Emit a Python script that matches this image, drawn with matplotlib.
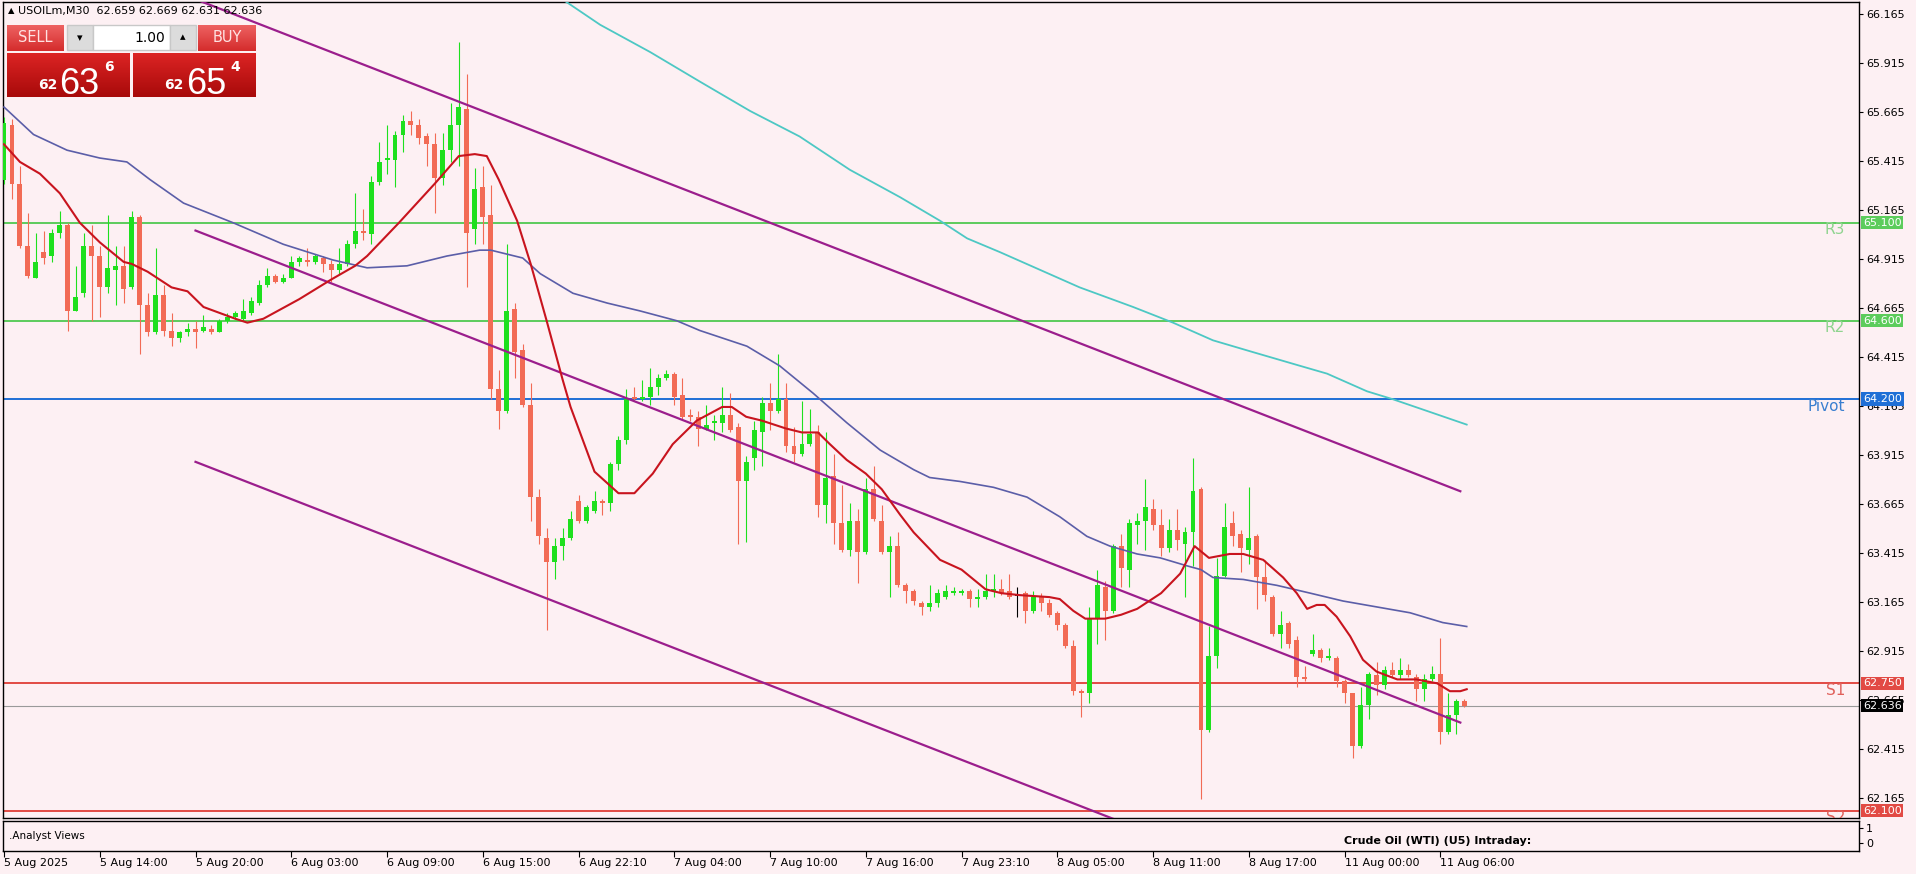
import numpy as np
import matplotlib.pyplot as plt
from matplotlib.patches import Rectangle
from matplotlib.colors import LinearSegmentedColormap

# USOILm M30 candles, 5 Aug 2025 -> 11 Aug 2025
opens = [65.32, 65.60, 65.30, 64.98, 64.82, 64.95, 64.93, 65.05, 65.09, 64.65,
         64.74, 64.98, 64.93, 64.77, 64.86, 64.88, 64.77, 65.13, 64.68, 64.54,
         64.73, 64.55, 64.51, 64.54, 64.56, 64.55, 64.56, 64.54, 64.60, 64.62,
         64.61, 64.64, 64.69, 64.78, 64.83, 64.80, 64.82, 64.90, 64.91, 64.90,
         64.92, 64.89, 64.86, 64.89, 64.99, 65.06, 65.04, 65.31, 65.42, 65.42,
         65.55, 65.62, 65.60, 65.54, 65.50, 65.33, 65.47, 65.60, 65.68, 65.07,
         65.28, 65.14, 64.25, 64.14, 64.66, 64.45, 64.17, 63.70, 63.49, 63.37,
         63.45, 63.49, 63.68, 63.58, 63.63, 63.68, 63.67, 63.87, 63.99, 64.21,
         64.20, 64.21, 64.26, 64.31, 64.33, 64.22, 64.12, 64.11, 64.05, 64.08,
         64.08, 64.12, 64.06, 63.78, 63.90, 64.03, 64.18, 64.14, 64.20, 63.96,
         63.92, 63.97, 64.03, 63.66, 63.81, 63.57, 63.43, 63.58, 63.42, 63.74,
         63.58, 63.42, 63.45, 63.25, 63.22, 63.16, 63.14, 63.16, 63.19, 63.21,
         63.21, 63.22, 63.18, 63.19, 63.22, 63.23, 63.22, 63.195, 63.21, 63.12,
         63.19, 63.16, 63.11, 63.05, 62.94, 62.71, 62.70, 63.08, 63.24, 63.12,
         63.45, 63.33, 63.56, 63.58, 63.64, 63.56, 63.44, 63.53, 63.46, 63.52,
         63.74, 62.51, 62.89, 63.30, 63.57, 63.51, 63.43, 63.50, 63.29, 63.19,
         63.00, 63.06, 62.97, 62.78, 62.90, 62.92, 62.88, 62.88, 62.76, 62.70,
         62.43, 62.64, 62.79, 62.74, 62.82, 62.79, 62.82, 62.78, 62.72, 62.77,
         62.80, 62.50, 62.59, 62.659]
highs = [65.64, 65.63, 65.39, 65.15, 65.05, 65.06, 65.07, 65.16, 65.10, 64.88,
         65.05, 65.09, 64.98, 65.14, 64.98, 64.98, 65.16, 65.14, 64.74, 64.97,
         64.78, 64.64, 64.55, 64.59, 64.60, 64.63, 64.58, 64.61, 64.64, 64.65,
         64.71, 64.72, 64.81, 64.87, 64.84, 64.84, 64.93, 64.93, 64.97, 64.94,
         64.93, 64.91, 64.97, 65.01, 65.25, 65.17, 65.34, 65.51, 65.60, 65.57,
         65.65, 65.67, 65.63, 65.56, 65.56, 65.56, 65.71, 66.02, 65.86, 65.38,
         65.39, 65.29, 64.35, 64.99, 64.69, 64.48, 64.28, 63.74, 63.54, 63.49,
         63.54, 63.63, 63.71, 63.66, 63.73, 63.69, 63.88, 64.01, 64.25, 64.26,
         64.30, 64.36, 64.33, 64.35, 64.34, 64.31, 64.15, 64.14, 64.17, 64.12,
         64.26, 64.23, 64.08, 63.91, 64.09, 64.21, 64.28, 64.43, 64.28, 64.06,
         64.19, 64.15, 64.07, 64.03, 63.92, 63.76, 63.67, 63.64, 63.80, 63.86,
         63.66, 63.50, 63.52, 63.26, 63.23, 63.17, 63.25, 63.23, 63.25, 63.24,
         63.23, 63.23, 63.23, 63.31, 63.31, 63.28, 63.31, 63.24, 63.22, 63.22,
         63.21, 63.18, 63.12, 63.06, 62.97, 62.72, 63.14, 63.33, 63.27, 63.46,
         63.51, 63.59, 63.62, 63.79, 63.69, 63.64, 63.59, 63.64, 63.55, 63.90,
         63.75, 63.04, 63.39, 63.67, 63.63, 63.53, 63.75, 63.51, 63.38, 63.20,
         63.12, 63.07, 62.99, 62.84, 63.00, 62.93, 62.93, 62.89, 62.77, 62.70,
         62.73, 62.81, 62.86, 62.84, 62.86, 62.88, 62.85, 62.80, 62.80, 62.84,
         62.98, 62.70, 62.67, 62.669]
lows = [65.30, 65.22, 64.97, 64.82, 64.82, 64.89, 64.90, 65.02, 64.55, 64.65,
        64.72, 64.60, 64.62, 64.74, 64.68, 64.69, 64.76, 64.43, 64.52, 64.53,
        64.52, 64.47, 64.49, 64.52, 64.46, 64.54, 64.53, 64.54, 64.59, 64.61,
        64.60, 64.63, 64.68, 64.77, 64.79, 64.79, 64.82, 64.88, 64.88, 64.89,
        64.85, 64.80, 64.84, 64.88, 64.97, 65.01, 64.99, 65.29, 65.35, 65.28,
        65.46, 65.55, 65.50, 65.39, 65.15, 65.29, 65.41, 65.39, 64.77, 64.99,
        64.99, 64.20, 64.05, 64.13, 64.31, 64.16, 63.58, 63.46, 63.02, 63.28,
        63.38, 63.48, 63.57, 63.57, 63.62, 63.61, 63.63, 63.84, 63.97, 64.19,
        64.19, 64.17, 64.22, 64.30, 64.17, 64.10, 64.09, 63.96, 64.04, 63.99,
        64.03, 64.03, 63.46, 63.47, 63.84, 63.86, 64.04, 64.13, 63.93, 63.88,
        63.91, 63.96, 63.60, 63.57, 63.46, 63.42, 63.40, 63.26, 63.41, 63.58,
        63.41, 63.19, 63.24, 63.16, 63.15, 63.10, 63.12, 63.14, 63.18, 63.20,
        63.20, 63.14, 63.14, 63.18, 63.19, 63.20, 63.18, 63.09, 63.06, 63.11,
        63.12, 63.09, 63.02, 62.93, 62.69, 62.58, 62.65, 62.95, 62.97, 63.11,
        63.24, 63.24, 63.46, 63.43, 63.53, 63.40, 63.42, 63.43, 63.19, 63.35,
        62.16, 62.50, 62.83, 63.29, 63.45, 63.32, 63.36, 63.13, 63.17, 62.99,
        62.93, 62.93, 62.73, 62.76, 62.89, 62.86, 62.87, 62.73, 62.65, 62.37,
        62.42, 62.57, 62.69, 62.72, 62.78, 62.77, 62.78, 62.66, 62.66, 62.76,
        62.44, 62.49, 62.49, 62.631]
closes = [65.61, 65.30, 64.98, 64.83, 64.90, 64.92, 65.05, 65.09, 64.65, 64.72,
          64.98, 64.93, 64.77, 64.87, 64.88, 64.76, 65.13, 64.68, 64.54, 64.73,
          64.55, 64.51, 64.54, 64.56, 64.54, 64.57, 64.54, 64.60, 64.62, 64.64,
          64.65, 64.70, 64.78, 64.83, 64.80, 64.82, 64.90, 64.92, 64.90, 64.93,
          64.89, 64.86, 64.89, 64.99, 65.06, 65.05, 65.31, 65.41, 65.43, 65.55,
          65.62, 65.60, 65.53, 65.50, 65.33, 65.47, 65.60, 65.69, 65.05, 65.27,
          65.13, 64.25, 64.14, 64.65, 64.44, 64.17, 63.70, 63.50, 63.37, 63.45,
          63.49, 63.59, 63.58, 63.65, 63.68, 63.67, 63.87, 63.99, 64.20, 64.20,
          64.21, 64.26, 64.31, 64.33, 64.21, 64.11, 64.11, 64.05, 64.07, 64.09,
          64.12, 64.04, 63.78, 63.88, 64.04, 64.18, 64.14, 64.20, 63.96, 63.92,
          63.97, 64.02, 63.66, 63.80, 63.57, 63.43, 63.58, 63.42, 63.74, 63.59,
          63.42, 63.45, 63.25, 63.22, 63.17, 63.14, 63.16, 63.21, 63.22, 63.22,
          63.22, 63.18, 63.19, 63.22, 63.23, 63.21, 63.19, 63.195, 63.12, 63.19,
          63.16, 63.10, 63.05, 62.94, 62.71, 62.70, 63.08, 63.25, 63.12, 63.45,
          63.34, 63.57, 63.58, 63.65, 63.56, 63.44, 63.53, 63.48, 63.52, 63.73,
          62.51, 62.89, 63.30, 63.55, 63.50, 63.44, 63.49, 63.29, 63.20, 63.00,
          63.05, 62.95, 62.78, 62.77, 62.92, 62.88, 62.89, 62.76, 62.70, 62.43,
          62.64, 62.80, 62.74, 62.82, 62.79, 62.82, 62.79, 62.72, 62.77, 62.80,
          62.50, 62.59, 62.66, 62.636]

time_labels = ['5 Aug 2025', '5 Aug 14:00', '5 Aug 20:00', '6 Aug 03:00', '6 Aug 09:00',
               '6 Aug 15:00', '6 Aug 22:10', '7 Aug 04:00', '7 Aug 10:00', '7 Aug 16:00',
               '7 Aug 23:10', '8 Aug 05:00', '8 Aug 11:00', '8 Aug 17:00', '11 Aug 00:00',
               '11 Aug 06:00']
bars_per_label = 12

# moving averages, read at a set of bar positions
fast_ma_x = [0, 2, 4.5, 7, 9.5, 12, 15, 16, 18, 21, 23, 25, 29, 30.5, 32.5, 37, 41, 44, 45.5,
             49.5, 54, 57, 59, 60.5, 62, 64.3, 66, 68, 70, 71, 74, 77, 79, 81.3, 83.8, 86.8,
             90, 91.2, 93, 95, 98, 100, 102, 103.5, 105.6, 108, 110, 112.3, 114, 117.3, 120,
             121.5, 123, 125, 127.3, 131, 132.3, 134, 135.5, 138, 140, 142, 145, 147.4, 149.2,
             151, 153.6, 155.3, 157.8, 160.3, 162, 163.3, 164.5, 165.5, 167, 168.7, 170.3,
             172, 174.6, 177, 179.6, 181.2, 182.5, 183.3]
fast_ma = [65.50, 65.41, 65.35, 65.25, 65.10, 65.00, 64.90, 64.89, 64.85, 64.77, 64.75, 64.67,
           64.61, 64.59, 64.61, 64.71, 64.81, 64.88, 64.93, 65.10, 65.30, 65.44, 65.45, 65.44,
           65.32, 65.11, 64.89, 64.60, 64.30, 64.16, 63.83, 63.72, 63.72, 63.82, 63.97, 64.09,
           64.16, 64.16, 64.11, 64.09, 64.05, 64.03, 64.03, 63.97, 63.89, 63.82, 63.74, 63.61,
           63.52, 63.38, 63.33, 63.28, 63.23, 63.21, 63.20, 63.19, 63.18, 63.12, 63.08, 63.08,
           63.10, 63.13, 63.21, 63.31, 63.45, 63.39, 63.41, 63.41, 63.38, 63.29, 63.21, 63.13,
           63.15, 63.15, 63.09, 62.99, 62.87, 62.81, 62.77, 62.77, 62.75, 62.71, 62.71, 62.72]

slow_ma_x = [0, 3.7, 7.9, 12, 15.4, 18.3, 22.5, 28.7, 35, 41.2, 45.5, 50.5, 55.5, 59.6, 61, 63,
             65, 67.2, 71.3, 75.6, 79.7, 84.3, 87.2, 93.1, 97.2, 101.4, 105.6, 109.8, 114, 116,
             119.8, 124, 128.2, 132.3, 135.7, 138.6, 142, 144.9, 148.2, 150, 151.5, 155.3,
             159.5, 163.7, 167.8, 172, 176.2, 180.3, 183.3]
slow_ma = [65.69, 65.55, 65.47, 65.43, 65.41, 65.32, 65.20, 65.10, 64.99, 64.91, 64.87, 64.88,
           64.93, 64.96, 64.96, 64.94, 64.92, 64.84, 64.74, 64.69, 64.65, 64.60, 64.55, 64.47,
           64.37, 64.23, 64.08, 63.94, 63.84, 63.80, 63.78, 63.75, 63.70, 63.60, 63.50, 63.45,
           63.41, 63.39, 63.35, 63.33, 63.29, 63.28, 63.25, 63.21, 63.17, 63.14, 63.11, 63.06,
           63.04]

long_ma_x = [68.5, 70.7, 74.7, 81, 87.2, 93.5, 99.7, 106, 112.3, 117.3, 120.7, 124.8, 129.8,
             134.8, 141.5, 146.5, 151.5, 156.5, 162.4, 165.8, 170.8, 174, 178.3, 183.3]
long_ma = [66.28, 66.22, 66.11, 65.97, 65.82, 65.67, 65.54, 65.37, 65.23, 65.11, 65.02, 64.95,
           64.86, 64.77, 64.67, 64.59, 64.50, 64.44, 64.37, 64.33, 64.24, 64.20, 64.14, 64.07]

# regression channel (start / end bar)
channel_x = [24, 182.5]
channel_upper = [66.24, 63.73]
channel_mid = [65.06, 62.55]
channel_lower = [63.88, 61.37]

levels = [65.100, 64.600, 64.200, 62.750, 62.100]
level_names = ['R3', 'R2', 'Pivot', 'S1', 'S2']
level_colors = ['#5ccc5c', '#5ccc5c', '#1f6fd6', '#e24a44', '#e24a44']
level_text_colors = ['#8fd48f', '#8fd48f', '#3a7fd0', '#e0605a', '#e0605a']
last_price = 62.636

bg = '#fdf0f3'
bull = '#1ee01e'
bear = '#f26b55'

W, H = 1916, 874
fig = plt.figure(figsize=(W / 100, H / 100), dpi=100, facecolor=bg)

def px_rect(x0, y0, x1, y1):
    return [x0 / W, 1 - y1 / H, (x1 - x0) / W, (y1 - y0) / H]

ax = fig.add_axes(px_rect(3, 2, 1859, 818))
sub = fig.add_axes(px_rect(3, 821, 1859, 851), sharex=ax)
for a in (ax, sub):
    a.set_facecolor(bg)
    for s in a.spines.values():
        s.set_color('black')
        s.set_linewidth(1)

n = len(opens)
idx = np.arange(n)
o = np.array(opens)
c = np.array(closes)
hi = np.array(highs)
lo = np.array(lows)
cols = np.where(c > o, bull, np.where(c < o, bear, 'black'))

ax.vlines(idx, lo, hi, colors=cols, linewidth=0.8, zorder=3)
body_low = np.minimum(o, c)
body_h = np.maximum(np.abs(c - o), 0.005)
ax.bar(idx, body_h, bottom=body_low, width=0.62, color=cols, linewidth=0, zorder=3)

# levels
for lvl, col in zip(levels, level_colors):
    ax.axhline(lvl, color=col, linewidth=1.4, zorder=2)
ax.axhline(last_price, color='#9a9a9a', linewidth=0.8, zorder=2)

# channel and moving averages
for ys in (channel_upper, channel_mid, channel_lower):
    ax.plot(channel_x, ys, color='#9b1e8c', linewidth=1.6, zorder=4)
ax.plot(long_ma_x, long_ma, color='#4dc8c4', linewidth=1.3, zorder=4)
ax.plot(slow_ma_x, slow_ma, color='#5b5ea8', linewidth=1.2, zorder=4)
ax.plot(fast_ma_x, fast_ma, color='#c8141e', linewidth=1.5, zorder=5)

ax.set_xlim(-0.125, 232.46)
ax.set_ylim(62.063, 66.226)

# right price axis
ax.yaxis.tick_right()
ax.set_yticks(np.arange(62.165, 66.2, 0.25))
ax.set_yticklabels(['%.3f' % v for v in np.arange(62.165, 66.2, 0.25)])
ax.tick_params(axis='y', direction='out', length=3, width=0.8, pad=2, labelsize=8)
ax.tick_params(axis='x', bottom=False, labelbottom=False)

for lvl, name, col, tcol in zip(levels, level_names, level_colors, level_text_colors):
    ax.annotate(name, xy=(0.9925, lvl), xycoords=('axes fraction', 'data'),
                xytext=(0, -7), textcoords='offset pixels', ha='right', va='center',
                fontsize=11, color=tcol, zorder=6, annotation_clip=False, clip_on=True)
    ax.annotate('%.3f' % lvl, xy=(1, lvl), xycoords=('axes fraction', 'data'),
                xytext=(4, 0), textcoords='offset pixels', ha='left', va='center',
                fontsize=8, color='white', zorder=7, annotation_clip=False,
                bbox=dict(boxstyle='square,pad=0.15', facecolor=col, edgecolor='none'))
ax.annotate('%.3f' % last_price, xy=(1, last_price), xycoords=('axes fraction', 'data'),
            xytext=(4, 0), textcoords='offset pixels', ha='left', va='center',
            fontsize=8, color='white', zorder=7, annotation_clip=False,
            bbox=dict(boxstyle='square,pad=0.15', facecolor='black', edgecolor='none'))

# indicator sub window
sub.set_ylim(-0.533, 1.467)
sub.yaxis.tick_right()
sub.set_yticks([0, 1])
sub.set_yticklabels(['0', '1'])
sub.tick_params(axis='y', direction='out', length=3, width=0.8, pad=2, labelsize=8)
sub.set_xticks(np.arange(0, n, bars_per_label))
sub.set_xticklabels(time_labels)
sub.tick_params(axis='x', direction='out', length=4, width=0.8, pad=1, labelsize=8)
for t in sub.get_xticklabels():
    t.set_ha('left')
sub.text(0.003, 0.5, '.Analyst Views', transform=sub.transAxes, ha='left', va='center',
         fontsize=7.5)
sub.text(0.7225, 0.35, 'Crude Oil (WTI) (U5) Intraday:', transform=sub.transAxes,
         ha='left', va='center', fontsize=8, fontweight='bold')

# header and one-click trading panel
ov = fig.add_axes([0, 0, 1, 1], zorder=10)
ov.patch.set_alpha(0)
ov.axis('off')

def grad_box(x0, y0, x1, y1, top, bottom):
    cm = LinearSegmentedColormap.from_list('g', [top, bottom])
    ov.imshow(np.linspace(0, 1, 64).reshape(-1, 1), extent=(x0, x1, y1, y0),
              cmap=cm, aspect='auto', origin='upper', zorder=2)

ov.text(8, 11, '\u25b2', fontsize=6, va='center', ha='left')
ov.text(18, 11, 'USOILm,M30  62.659 62.669 62.631 62.636', fontsize=8, va='center', ha='left')

grad_box(7, 25, 64, 51, '#ee6262', '#d42c2c')
grad_box(198, 25, 256, 51, '#ee6262', '#d42c2c')
ov.add_patch(Rectangle((67, 25), 26, 25, facecolor='#dcdcdc', edgecolor='#c8c8c8', zorder=2))
ov.add_patch(Rectangle((93, 25), 77, 25, facecolor='white', edgecolor='#c8c8c8', zorder=2))
ov.add_patch(Rectangle((170, 25), 26, 25, facecolor='#dcdcdc', edgecolor='#c8c8c8', zorder=2))
ov.text(80, 38, '\u25be', fontsize=8, ha='center', va='center', zorder=3)
ov.text(183, 37, '\u25b4', fontsize=8, ha='center', va='center', zorder=3)
ov.text(165, 38, '1.00', fontsize=10, ha='right', va='center', zorder=3)
ov.text(35, 38, 'SELL', fontsize=10.5, color='#ffe2e2', ha='center', va='center', zorder=3)
ov.text(227, 38, 'BUY', fontsize=10.5, color='#ffe2e2', ha='center', va='center', zorder=3)

grad_box(7, 53, 130, 97, '#dc2424', '#a80a0a')
grad_box(133, 53, 256, 97, '#dc2424', '#a80a0a')
for x_small, big, x_big, sup, x_sup in [(38, '63', 59, '6', 104), (164, '65', 186, '4', 230)]:
    ov.text(x_small, 89, '62', fontsize=10, fontweight='bold', color='white',
            ha='left', va='baseline', zorder=3)
    ov.text(x_big, 94, big, fontsize=26, family='Liberation Sans', color='white',
            ha='left', va='baseline', zorder=3)
    ov.text(x_sup, 71, sup, fontsize=10, fontweight='bold', color='white',
            ha='left', va='baseline', zorder=3)

ov.set_xlim(0, W)
ov.set_ylim(H, 0)

fig.savefig('out.png', dpi=100, facecolor=bg)
